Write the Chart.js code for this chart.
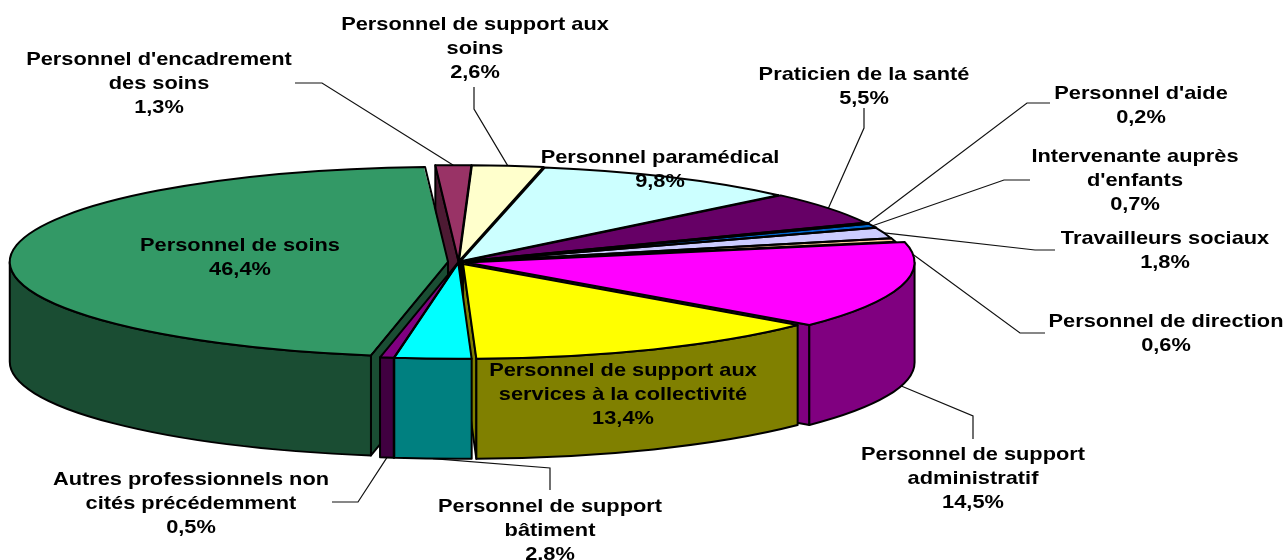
<!DOCTYPE html>
<html><head><meta charset="utf-8">
<style>html,body{margin:0;padding:0;background:#fff}canvas{display:block}</style>
<script src="https://cdn.jsdelivr.net/npm/chart.js@4"></script>
</head><body><canvas id="c" width="1287" height="560"></canvas>
<script>
const categories = [
 "Personnel d'encadrement\ndes soins","Personnel de support aux\nsoins","Personnel paramédical","Praticien de la santé",
 "Personnel d'aide","Intervenante auprès\nd'enfants","Travailleurs sociaux","Personnel de direction",
 "Personnel de support\nadministratif","Personnel de support aux\nservices à la collectivité","Personnel de support\nbâtiment",
 "Autres professionnels non\ncités précédemment","Personnel de soins"];
const values = [1.3,2.6,9.8,5.5,0.2,0.7,1.8,0.6,14.5,13.4,2.8,0.5,46.4];
const topColors = ['#993366','#FFFFCC','#CCFFFF','#660066','#000080','#0066CC','#CCCCFF','#FFCC99','#FF00FF','#FFFF00','#00FFFF','#800080','#339966'];
const wallColors = ['#4D1A33','#808066','#668080','#330033','#000040','#003366','#666680','#80664D','#800080','#808000','#008080','#400040','#1A4D33'];
const explode = [10,10,10,10,10,10,10,10,18,24,10,10,24];
// slight per-slice radius change, standing in for the reference's perspective
const radiusBoost = [1,1,1,1,1,1,1,1,1.02,0.992,1,1,0.982];
// label layout: centre x, first line middle y
const labelPos = [[159,60],[475,25],[660,158],[864,75],[1141,94],[1135,157],[1165,239],[1166,322],[973,455],[623,371],[550,507],[191,480],[240,246]];
// leader lines: start point and elbow (null = no leader); the far end sits on the slice rim
const leaders = [[[295,83],[322,83]],[[474,87],[474,109]],null,[[864,108],[864,128]],[[1050,103],[1027,103]],[[1030,180],[1004,180]],[[1055,250],[1035,250]],[[1045,333],[1020,333]],[[973,439],[973,416]],null,[[550,490],[550,468]],[[332,502],[358,502]],null];

const RX = 438, RY = 95, DEPTH = 100, LINE = 2;
const TEXT_SX = 1.147, LINE_STEP = 24;

function geo(chart){
  const arcs = chart.getDatasetMeta(0).data;
  const x0 = arcs[0].x, y0 = arcs[0].y, R = arcs[0].outerRadius;
  const sx = RX/R, sy = RY/R;
  return {x0,y0,sx,sy,items:arcs.map((a,i)=>{
    const off = (a.options.offset||0)/4, mid=(a.startAngle+a.endAngle)/2;
    const fix = 1-Math.sin(Math.min(Math.PI,a.circumference||0));
    return {i,a:a.startAngle,b:a.endAngle,mid,
      ax:x0+sx*Math.cos(mid)*off, ay:y0+sy*Math.sin(mid)*off,
      rx:(a.outerRadius+off*fix)*sx, ry:(a.outerRadius+off*fix)*sy};
  })};
}
const rim=(s,t)=>[s.ax+s.rx*Math.cos(t), s.ay+s.ry*Math.sin(t)];

const pie3d = {
  id:'pie3d',
  afterDatasetUpdate(chart){
    chart.getDatasetMeta(0).data.forEach((a,i)=>{ a.outerRadius*=radiusBoost[i]; });
  },
  beforeDatasetDraw(chart){
    const ctx=chart.ctx, g=geo(chart);
    // leader lines run behind the pie
    ctx.save();
    ctx.lineWidth=1.2; ctx.strokeStyle='#111';
    g.items.forEach(s=>{
      const l=leaders[s.i]; if(!l) return;
      let [ex,ey]=rim(s,s.mid);
      if(Math.sin(s.mid)>0) ey+=DEPTH;
      ctx.beginPath(); ctx.moveTo(l[0][0],l[0][1]); ctx.lineTo(l[1][0],l[1][1]); ctx.lineTo(ex,ey); ctx.stroke();
    });
    ctx.restore();
    ctx.save(); ctx.lineWidth=LINE; ctx.strokeStyle='#000'; ctx.lineJoin='round';
    const order=[...g.items].sort((p,q)=>Math.sin(p.mid)-Math.sin(q.mid));
    for(const s of order){
      ctx.fillStyle=wallColors[s.i];
      for(const [t,vis] of [[s.a,Math.cos(s.a)<0],[s.b,Math.cos(s.b)>0]]){
        if(!vis) continue;
        const [px,py]=rim(s,t);
        ctx.beginPath(); ctx.moveTo(s.ax,s.ay); ctx.lineTo(px,py); ctx.lineTo(px,py+DEPTH); ctx.lineTo(s.ax,s.ay+DEPTH); ctx.closePath();
        ctx.fill(); ctx.stroke();
      }
      const a=Math.max(s.a,0), b=Math.min(s.b,Math.PI);
      if(b>a){
        ctx.beginPath();
        ctx.ellipse(s.ax,s.ay,s.rx,s.ry,0,a,b);
        ctx.ellipse(s.ax,s.ay+DEPTH,s.rx,s.ry,0,b,a,true);
        ctx.closePath(); ctx.fill(); ctx.stroke();
      }
    }
    ctx.restore();
    // the library then fills the top faces inside this squashed frame
    ctx.save();
    ctx.translate(g.x0,g.y0); ctx.scale(g.sx,g.sy); ctx.translate(-g.x0,-g.y0);
  },
  afterDatasetDraw(chart){
    const ctx=chart.ctx; ctx.restore();
    const g=geo(chart);
    ctx.save(); ctx.lineWidth=LINE; ctx.strokeStyle='#000'; ctx.lineJoin='round';
    for(const s of g.items){
      ctx.beginPath(); ctx.moveTo(s.ax,s.ay);
      ctx.ellipse(s.ax,s.ay,s.rx,s.ry,0,s.a,s.b);
      ctx.closePath(); ctx.stroke();
    }
    ctx.restore();
  },
  afterDraw(chart){
    const ctx=chart.ctx;
    ctx.save();
    ctx.fillStyle='#000'; ctx.textAlign='center'; ctx.textBaseline='middle';
    ctx.font='bold 19px "Liberation Sans", Arial, sans-serif';
    categories.forEach((c,i)=>{
      const lines=c.split('\n').concat(values[i].toFixed(1).replace('.',',')+'%');
      lines.forEach((t,k)=>{
        ctx.save(); ctx.translate(labelPos[i][0],labelPos[i][1]+k*LINE_STEP); ctx.scale(TEXT_SX,1);
        ctx.fillText(t,0,0); ctx.restore();
      });
    });
    ctx.restore();
  }
};

new Chart(document.getElementById('c'),{
  type:'pie',
  data:{labels:categories,datasets:[{data:values,backgroundColor:topColors,borderWidth:0,offset:explode,hoverOffset:0}]},
  options:{responsive:false,animation:false,rotation:-3,
    layout:{padding:{right:370,bottom:36}},
    plugins:{legend:{display:false},tooltip:{enabled:false}},events:[]},
  plugins:[pie3d]
});
</script></body></html>
